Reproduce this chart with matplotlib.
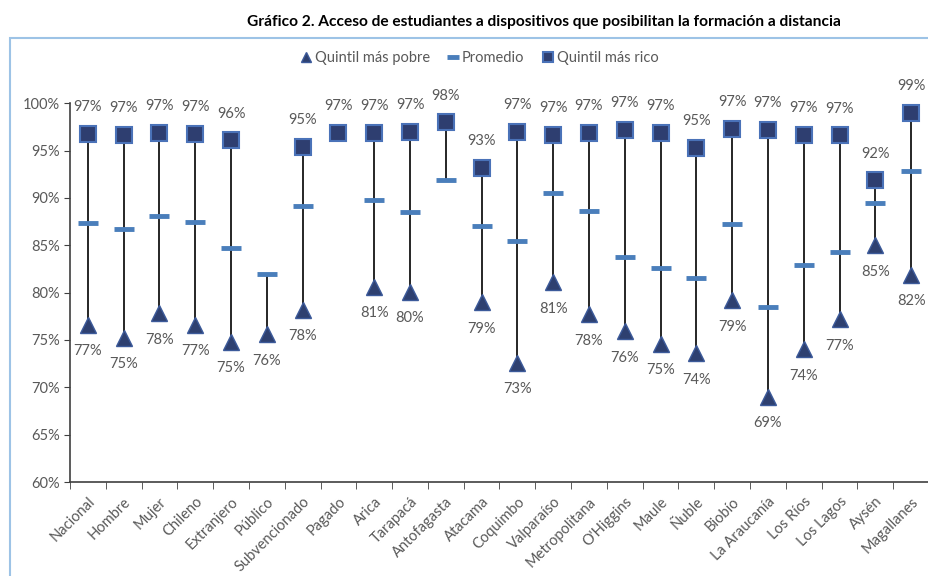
import numpy as np
import matplotlib
matplotlib.use("Agg")
from matplotlib import pyplot as plt
from matplotlib.patches import Rectangle

plt.rcParams['font.family'] = ['Lato', 'DejaVu Sans']

categories = ['Nacional', 'Hombre', 'Mujer', 'Chileno', 'Extranjero', 'Público',
              'Subvencionado', 'Pagado', 'Arica', 'Tarapacá', 'Antofagasta', 'Atacama',
              'Coquimbo', 'Valparaíso', 'Metropolitana', "O'Higgins", 'Maule', 'Ñuble',
              'Biobío', 'La Araucanía', 'Los Ríos', 'Los Lagos', 'Aysén', 'Magallanes']
pobre = [76.6, 75.2, 77.8, 76.6, 74.8, 75.6, 78.2, np.nan, 80.6, 80.1, np.nan, 79.0,
         72.6, 81.1, 77.7, 75.9, 74.6, 73.6, 79.2, 69.0, 74.0, 77.2, 85.0, 81.9]
promedio = [87.4, 86.7, 88.1, 87.5, 84.7, 82.0, 89.2, np.nan, 89.8, 88.5, 91.9, 87.0,
            85.5, 90.5, 88.6, 83.8, 82.6, 81.6, 87.2, 78.5, 82.9, 84.3, 89.5, 92.8]
rico = [96.8, 96.7, 96.9, 96.8, 96.1, np.nan, 95.4, 96.9, 96.9, 97.0, 98.0, 93.2,
        97.0, 96.7, 96.9, 97.2, 96.9, 95.3, 97.3, 97.2, 96.7, 96.6, 91.9, 99.0]

gray = '#595959'
x = np.arange(len(categories))
lo = np.nanmin(np.array([pobre, promedio, rico]), axis=0)
hi = np.nanmax(np.array([pobre, promedio, rico]), axis=0)

fig = plt.figure(figsize=(9.29, 5.76), dpi=100)
ax = fig.add_axes([70 / 929, 1 - 482 / 576, 1 - 70 / 929, (482 - 103.3) / 576])

# frame around the chart
fig.patches.append(Rectangle((10 / 929, -0.01), 1.0, 1 - 38 / 576 + 0.01,
                             transform=fig.transFigure, fill=False,
                             edgecolor='#9DC3E6', lw=1.5))

ax.vlines(x, lo, hi, color='#262626', lw=1.4, zorder=1)
ax.plot(x, pobre, ls='none', marker='^', ms=12, mfc='#2E4070', mec='#3C5A9A',
        label='Quintil más pobre', zorder=3)
ax.plot(x, promedio, ls='none', marker='_', ms=14, mew=3.5, color='#4A7EBB',
        label='Promedio', zorder=3)
ax.plot(x, rico, ls='none', marker='s', ms=12, mfc='#2E3E70', mec='#4A72B8', mew=1.5,
        label='Quintil más rico', zorder=3)

for xi, v in zip(x, rico):
    if not np.isnan(v):
        ax.annotate(f'{v:.0f}%', (xi, v), xytext=(0, 19), textcoords='offset points',
                    ha='center', va='center', fontsize=10.5, color=gray, annotation_clip=False)
for xi, v in zip(x, pobre):
    if not np.isnan(v):
        ax.annotate(f'{v:.0f}%', (xi, v), xytext=(0, -19), textcoords='offset points',
                    ha='center', va='center', fontsize=10.5, color=gray, annotation_clip=False)

ax.set_xlim(-0.5, len(categories) - 0.5)
ax.set_ylim(60, 100)
ax.set_yticks(np.arange(60, 101, 5))
ax.set_yticklabels([f'{t}%' for t in range(60, 101, 5)], color=gray, fontsize=10.5)
ax.set_xticks(x)
ax.set_xticklabels(categories, rotation=45, ha='right', rotation_mode='anchor',
                   color=gray, fontsize=10.5)
ax.set_xticks(np.arange(-0.5, len(categories), 1), minor=True)
ax.tick_params(axis='x', which='major', length=0, pad=9)
ax.tick_params(axis='x', which='minor', length=5, direction='out', color='#404040')
ax.tick_params(axis='y', length=4, color='#404040')
for s in ['top', 'right']:
    ax.spines[s].set_visible(False)
for s in ['left', 'bottom']:
    ax.spines[s].set_color('#404040')
    ax.spines[s].set_linewidth(1.2)

fig.legend(loc='center', bbox_to_anchor=(0.516, 1 - 58 / 576), ncol=3, frameon=False,
           fontsize=10.5, labelcolor=gray, handletextpad=0.2, columnspacing=1.2,
           handlelength=0.8, markerscale=0.6)
fig.text(0.586, 1 - 22 / 576, 'Gráfico 2. Acceso de estudiantes a dispositivos que posibilitan la formación a distancia',
         ha='center', va='center', fontsize=11.2, fontweight='bold', color='black')

fig.savefig('out.png', dpi=100)
